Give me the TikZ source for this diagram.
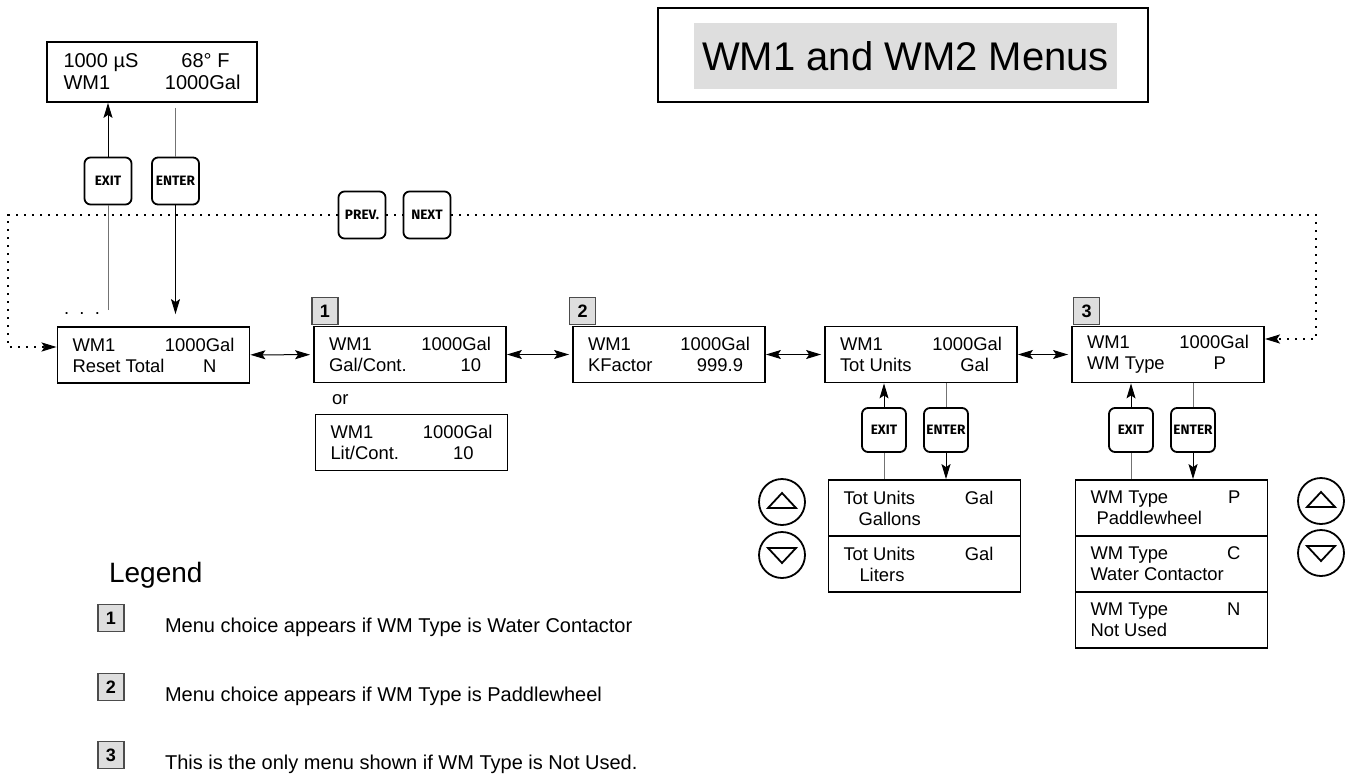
\documentclass[tikz,border=0pt]{standalone}
\usepackage{fontspec}
\setmainfont{Liberation Sans}
\newfontfamily\keyfont{Fira Sans}
\usetikzlibrary{arrows.meta}
\definecolor{wire}{gray}{0.45}
\definecolor{shade}{gray}{0.87}
\tikzstyle{lcd}=[draw,line width=0.9pt,rectangle,minimum width=96pt,minimum height=28pt,inner sep=0pt,align=left,font=\fontsize{9.2}{10.5}\selectfont]
\tikzstyle{key}=[draw,line width=0.9pt,rounded corners=3pt,fill=white,minimum size=22pt,inner sep=0pt,font=\keyfont\bfseries\fontsize{6.8}{8}\selectfont]
\tikzstyle{bigkey}=[key,minimum size=23.5pt]
\tikzstyle{badge}=[draw=black!70,line width=0.6pt,fill=shade,minimum width=13pt,minimum height=13.5pt,inner sep=0pt,font=\bfseries\fontsize{9}{10}\selectfont]
\tikzstyle{arrowkey}=[draw,circle,line width=0.9pt,minimum size=23pt,inner sep=0pt]
\tikzstyle{conn}=[draw=wire,line width=0.5pt]
\tikzstyle{both}=[line width=0.5pt,<->]
\tikzstyle{dotline}=[line width=1pt,dash pattern=on 1pt off 3pt]
\newcommand{\lcdrow}[3][81pt]{\makebox[#1][l]{#2\hfill #3}}

\begin{document}
\begin{tikzpicture}[x=0.5pt,y=-0.5pt,>={Stealth[length=7.5pt,width=4.5pt,inset=1.5pt]}]
    \useasboundingbox (0,0) rectangle (1354,776);

    % title
    \node[draw,line width=0.75pt,minimum width=245pt,minimum height=47pt] (titlebox) at (903,55) {};
    \node[fill=shade,minimum width=211.5pt,minimum height=33pt,inner sep=0pt,font=\fontsize{20}{24}\selectfont] (title) at (905.5,56) {WM1 and WM2 Menus};

    % displays
    \node[lcd,minimum width=105pt,minimum height=30pt,font=\fontsize{10}{11}\selectfont] (home) at (152,72)
        {\lcdrow[88.5pt]{1000 µS}{68° F\hspace*{5.5pt}}\\\lcdrow[88.5pt]{WM1}{1000Gal}};
    \node[lcd] (reset) at (153.5,355) {\lcdrow{WM1}{1000Gal}\\\lcdrow{Reset Total}{N\hspace*{9pt}}};
    \node[lcd] (galcont) at (410,354.5) {\lcdrow{WM1}{1000Gal}\\\lcdrow{Gal/Cont.}{10\hspace*{5pt}}};
    \node[lcd] (litcont) at (411.5,442.5) {\lcdrow{WM1}{1000Gal}\\\lcdrow{Lit/Cont.}{10\hspace*{9.5pt}}};
    \node[lcd] (kfactor) at (669,354.5) {\lcdrow{WM1}{1000Gal}\\\lcdrow{KFactor}{999.9\hspace*{3.5pt}}};
    \node[lcd] (totunits) at (921,354.5) {\lcdrow{WM1}{1000Gal}\\\lcdrow{Tot Units}{Gal\hspace*{6.5pt}}};
    \node[lcd] (wmtype) at (1168,354.5) {\lcdrow{WM1}{1000Gal}\\\lcdrow{WM Type}{P\hspace*{11.5pt}}};

    \node[lcd] (gallons) at (924.5,508) {\lcdrow{Tot Units}{Gal\hspace*{6pt}}\\\lcdrow{\hspace*{7.5pt}Gallons}{}};
    \node[lcd] (liters) at (924.5,564) {\lcdrow{Tot Units}{Gal\hspace*{6pt}}\\\lcdrow{\hspace*{8pt}Liters}{}};
    \node[lcd] (paddle) at (1171.5,508) {\lcdrow{WM Type}{P\hspace*{6pt}}\\\lcdrow{\hspace*{3pt}Paddlewheel}{}};
    \node[lcd] (contactor) at (1171.5,564) {\lcdrow{WM Type}{C\hspace*{6pt}}\\\lcdrow{Water Contactor}{}};
    \node[lcd] (notused) at (1171.5,620) {\lcdrow{WM Type}{N\hspace*{6pt}}\\\lcdrow{Not Used}{}};

    \node[anchor=west,font=\fontsize{9.2}{10.5}\selectfont] (ortext) at (325,400) {or};
    \node[font=\fontsize{9.2}{10.5}\selectfont] (more) at (82,314) {.\ \ .\ \ .};

    % badges
    \node[badge] (b1) at (325,311) {1};
    \node[badge] (b2) at (582.5,311) {2};
    \node[badge] (b3) at (1086.5,311) {3};

    % keys
    \node[bigkey] (exitA) at (108,181) {EXIT};
    \node[bigkey] (enterA) at (175.5,181) {ENTER};
    \node[bigkey] (prev) at (362,215) {PREV.};
    \node[bigkey] (next) at (427,215) {NEXT};
    \node[key] (exitB) at (884,430) {EXIT};
    \node[key] (enterB) at (946,430) {ENTER};
    \node[key] (exitC) at (1131,430) {EXIT};
    \node[key] (enterC) at (1193,430) {ENTER};

    \node[arrowkey] (upB) at (782,502) {};
    \node[arrowkey] (downB) at (782,555) {};
    \node[arrowkey] (upC) at (1321,501) {};
    \node[arrowkey] (downC) at (1321,553) {};
    \foreach \k in {upB,upC}
        \draw[line width=0.9pt] ([shift={(-14,6)}]\k.center) -- ([shift={(14,6)}]\k.center) -- ([shift={(0,-9)}]\k.center) -- cycle;
    \foreach \k in {downB,downC}
        \draw[line width=0.9pt] ([shift={(-14,-7)}]\k.center) -- ([shift={(14,-7)}]\k.center) -- ([shift={(0,8)}]\k.center) -- cycle;

    % connectors
    \coordinate (exitfoot) at (108,310);
    \draw[conn] (exitfoot) -- (exitA);
    \draw[conn,->,black] (exitA) -- (exitA |- home.south);
    \draw[conn] ([yshift=-2.5pt]home.south -| enterA) -- (enterA);
    \draw[conn,->,black] (enterA) -- ([yshift=6pt]enterA |- reset.north);

    \draw[conn] (exitB |- gallons.north) -- (exitB);
    \draw[conn,->,black] (exitB) -- (exitB |- totunits.south);
    \draw[conn] (enterB |- totunits.south) -- (enterB);
    \draw[conn,->,black] (enterB) -- (enterB |- gallons.north);
    \draw[conn] (exitC |- paddle.north) -- (exitC);
    \draw[conn,->,black] (exitC) -- (exitC |- wmtype.south);
    \draw[conn] (enterC |- wmtype.south) -- (enterC);
    \draw[conn,->,black] (enterC) -- (enterC |- paddle.north);

    \foreach \from/\to in {reset/galcont,galcont/kfactor,kfactor/totunits,totunits/wmtype}
        \draw[both,shorten >=1.5pt] (\from) -- (\to);

    % prev / next loop
    \coordinate (loopL) at (8,215);
    \coordinate (loopR) at (1316,215);
    \draw[dotline,->] (prev) -- (loopL) |- ([yshift=4pt]reset.west);
    \draw[dotline] (prev) -- (next);
    \draw[dotline,->] (next) -- (loopR) |- ([yshift=7.75pt]wmtype.east);

    % legend
    \node[anchor=base west,font=\fontsize{14}{16}\selectfont] (legend) at (102,582) {Legend};
    \foreach \n/\y/\t in {1/618/{Menu choice appears if WM Type is Water Contactor},
                          2/687/{Menu choice appears if WM Type is Paddlewheel},
                          3/755/{This is the only menu shown if WM Type is Not Used.}}{
        \node[badge] (lb\n) at (111,\y) {\n};
        \node[anchor=base west,font=\fontsize{10}{12}\selectfont] (lt\n) at (158,\y+14) {\t};
    }
\end{tikzpicture}
\end{document}
